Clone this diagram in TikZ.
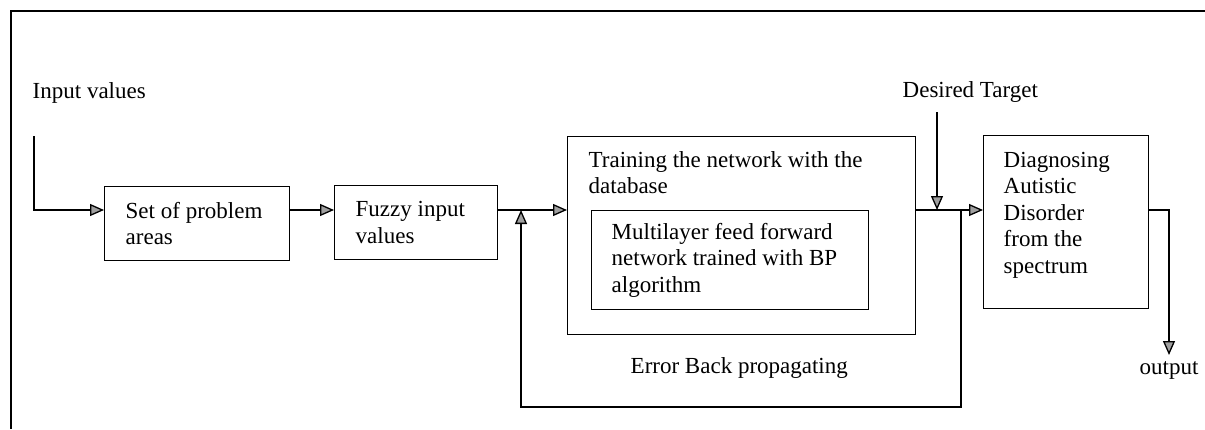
\documentclass[tikz,border=0pt]{standalone}
\usepackage{fontspec}
\setmainfont{Liberation Serif}
\usetikzlibrary{arrows.meta}
\begin{document}
\begin{tikzpicture}[x=1pt,y=-1pt,
  font=\fontsize{23}{26.5}\selectfont,
  line width=1.4pt,
  arr/.style={-{Triangle[length=14pt,width=12pt,fill=gray!75,line width=1.3pt]}},
  blk/.style={draw,anchor=north west,inner sep=0pt,align=flush left},
  lbl/.style={anchor=base west,inner sep=0pt}]
\useasboundingbox (0,0) rectangle (1205,429);

% open page frame
\draw[line width=1.6pt] (1205,11) -- (11,11) -- (11,429);

% blocks
\node[blk,minimum width=185pt,minimum height=74pt,text width=143pt] (set) at (104,186) {Set of problem\\areas};
\node[blk,minimum width=163pt,minimum height=74pt,text width=121pt] (fuzzy) at (334,185) {Fuzzy input\\values};
\node[blk,minimum width=348pt,minimum height=198pt] (train) at (567,136) {};
% multi-line labels: the base anchor sits on the last line
\node[lbl,align=flush left] (traintxt) at (588,193.5) {Training the network with the\\database};
\node[blk,minimum width=277pt,minimum height=99pt,text width=237pt] (mlp) at (591,210) {Multilayer feed forward\\network trained with BP\\algorithm};
\node[blk,minimum width=165pt,minimum height=173pt] (diag) at (983,135) {};
\node[lbl,align=flush left] (diagtxt) at (1003,273) {Diagnosing\\Autistic\\Disorder\\from the\\spectrum};

% labels
\node[lbl] (inlbl) at (32,98) {Input values};
\node[lbl] (dtlbl) at (902,97) {Desired Target};
\node[lbl] (errlbl) at (630,373) {Error Back propagating};
\node[anchor=base,inner sep=0pt] (outlbl) at (1169,374) {output};

% connector anchors
\coordinate (lvl) at (0,210);
\coordinate (intop) at (34,136);
\coordinate (dttop) at (937,112);
\coordinate (fbsplit) at (961,210);
\coordinate (fbbot) at (0,407);
\coordinate (fbleft) at (521,0);
\coordinate (outtip) at (1169,355);

% signal flow
\draw[arr] (intop) |- (set.west |- lvl);
\draw[arr] (set.east |- lvl) -- (fuzzy.west |- lvl);
\draw[arr] (fuzzy.east |- lvl) -- (train.west |- lvl);
\draw[arr] (train.east |- lvl) -- (diag.west |- lvl);
\draw[arr] (dttop) -- (dttop |- lvl);
\draw[arr] (diag.east |- lvl) -| (outtip);

% error feedback loop
\draw[arr] (fbsplit) -- (fbsplit |- fbbot) -- (fbleft |- fbbot) -- (fbleft |- lvl);
\end{tikzpicture}
\end{document}
